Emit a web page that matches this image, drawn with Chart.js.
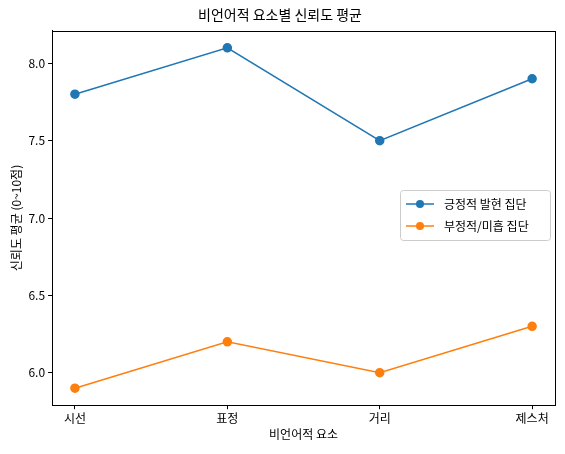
<!DOCTYPE html><html><head><meta charset="utf-8"><script src="https://cdn.jsdelivr.net/npm/chart.js@4"></script>
<style>body{margin:0;background:#fff}</style></head><body><div style="width:565px;height:454px"><canvas id="c"></canvas></div>
<script>
const categories=["시선","표정","거리","제스처"];
const positive=[7.8,8.1,7.5,7.9];
const negative=[5.9,6.2,6.0,6.3];
const yTicks=[6.0,6.5,7.0,7.5,8.0];
const F="'Noto Sans CJK KR', 'Noto Sans', sans-serif";
Chart.defaults.font.family=F;Chart.defaults.color='#000';
const legendPlugin={id:'lg',afterDraw(ch){const c=ch.ctx;const a=ch.chartArea;
c.save();c.strokeStyle='#000';c.lineWidth=1;c.strokeRect(Math.round(a.left)+.5,Math.round(a.top)+.5,Math.round(a.right-a.left),Math.round(a.bottom-a.top));
const x=400,y=190,w=150,h=50;
c.fillStyle='rgba(255,255,255,0.8)';c.strokeStyle='#ccc';
c.beginPath();c.roundRect(x+.5,y+.5,w,h,3);c.fill();c.stroke();
const items=[["긍정적 발현 집단",'#1f77b4'],["부정적/미흡 집단",'#ff7f0e']];
items.forEach((it,i)=>{const yy=y+14+i*22;c.strokeStyle=it[1];c.lineWidth=1.5;c.beginPath();c.moveTo(x+6,yy);c.lineTo(x+34,yy);c.stroke();
c.fillStyle=it[1];c.beginPath();c.arc(x+20,yy,4,0,7);c.fill();c.fillStyle='#000';c.font="12px "+F;c.textBaseline='middle';c.fillText(it[0],x+44,yy);});c.restore();}};
const g={drawOnChartArea:false,color:'#000',tickLength:4,tickWidth:1};
new Chart(document.getElementById('c'),{type:'line',plugins:[legendPlugin],
data:{datasets:[
{data:positive.map((v,i)=>({x:i,y:v})),borderColor:'#1f77b4',backgroundColor:'#1f77b4',borderWidth:1.5,pointRadius:4,pointHoverRadius:4},
{data:negative.map((v,i)=>({x:i,y:v})),borderColor:'#ff7f0e',backgroundColor:'#ff7f0e',borderWidth:1.5,pointRadius:4,pointHoverRadius:4}]},
options:{animation:false,responsive:true,maintainAspectRatio:false,
layout:{padding:{left:5,right:10,top:0,bottom:8}},
plugins:{legend:{display:false},tooltip:{enabled:false},title:{display:true,text:'비언어적 요소별 신뢰도 평균',font:{size:14,weight:'normal'},padding:{top:6,bottom:8}}},
scales:{x:{type:'linear',min:-0.15,max:3.15,grid:g,border:{color:'#000'},
afterBuildTicks:a=>{a.ticks=categories.map((_,i)=>({value:i}))},
ticks:{callback:v=>categories[v],font:{size:12},autoSkip:false,maxRotation:0,padding:2},
title:{display:true,text:'비언어적 요소',font:{size:12},padding:{top:0}}},
y:{min:5.79,max:8.21,grid:g,border:{color:'#000'},
afterBuildTicks:a=>{a.ticks=yTicks.map(v=>({value:v}))},
ticks:{callback:v=>v.toFixed(1),font:{size:12}},
title:{display:true,text:'신뢰도 평균 (0~10점)',font:{size:12},padding:{bottom:2}}}}}});
</script></body></html>
